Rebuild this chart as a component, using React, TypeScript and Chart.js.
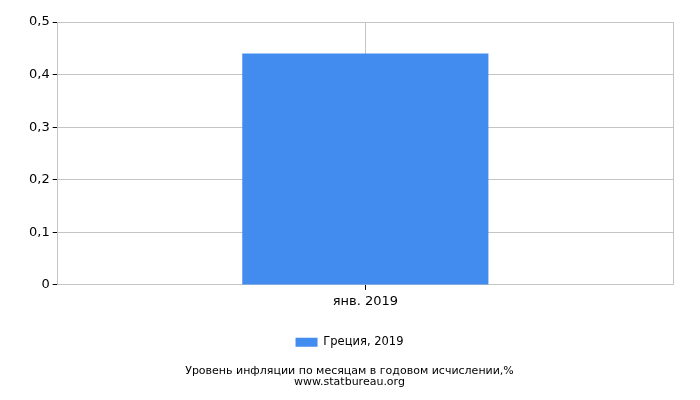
import React, { useEffect, useRef } from 'react'
import { Chart, registerables } from 'chart.js'

Chart.register(...registerables)

const categories = ['янв. 2019']
const seriesLabel = 'Греция, 2019'
const seriesValues = [0.44]
const titleLines = ['Уровень инфляции по месяцам в годовом исчислении,%', 'www.statbureau.org']

const FONT = 'DejaVu Sans'
const GRID = '#c4c4c4'

const App = () => {
  const canvasRef = useRef<HTMLCanvasElement>(null)

  useEffect(() => {
    if (!canvasRef.current) return
    const chart = new Chart(canvasRef.current, {
      type: 'bar',
      data: {
        labels: categories,
        datasets: [
          {
            label: seriesLabel,
            data: seriesValues,
            backgroundColor: '#428bef',
            barPercentage: 0.4,
            categoryPercentage: 1,
          },
        ],
      },
      options: {
        animation: false,
        responsive: false,
        layout: { padding: { top: 22, right: 27, left: 26, bottom: 12 } },
        scales: {
          x: {
            offset: true,
            grid: { offset: false, color: GRID, tickLength: 5, tickColor: '#000' },
            border: { color: GRID },
            ticks: { color: '#000', font: { family: FONT, size: 13 }, padding: 4 },
          },
          y: {
            min: 0,
            max: 0.5,
            ticks: {
              stepSize: 0.1,
              color: '#000',
              font: { family: FONT, size: 13 },
              padding: 3,
              callback: (v: any) => Number(v).toFixed(1).replace(/\.0$/, '').replace('.', ','),
            },
            grid: { color: GRID, tickLength: 5, tickColor: '#000' },
            border: { color: GRID },
          },
          yr: {
            position: 'right',
            min: 0,
            max: 0.5,
            ticks: { display: false },
            grid: { drawOnChartArea: false, drawTicks: false },
            border: { color: GRID },
          },
        },
        plugins: {
          legend: {
            position: 'bottom',
            labels: {
              color: '#000',
              font: { family: FONT, size: 11.5 },
              boxWidth: 22,
              boxHeight: 9,
              padding: 23,
            },
          },
          title: {
            display: true,
            position: 'bottom',
            text: titleLines,
            color: '#000',
            font: { family: FONT, size: 11, weight: 'normal', lineHeight: 1 },
            padding: { top: 8, bottom: 0 },
          },
          tooltip: { enabled: false },
        },
      },
    })
    return () => chart.destroy()
  }, [])

  return (
    <div style={{ position: 'fixed', left: 0, top: 0, width: 700, height: 400, background: '#fff' }}>
      <canvas ref={canvasRef} width={700} height={400} />
    </div>
  )
}

export default App
